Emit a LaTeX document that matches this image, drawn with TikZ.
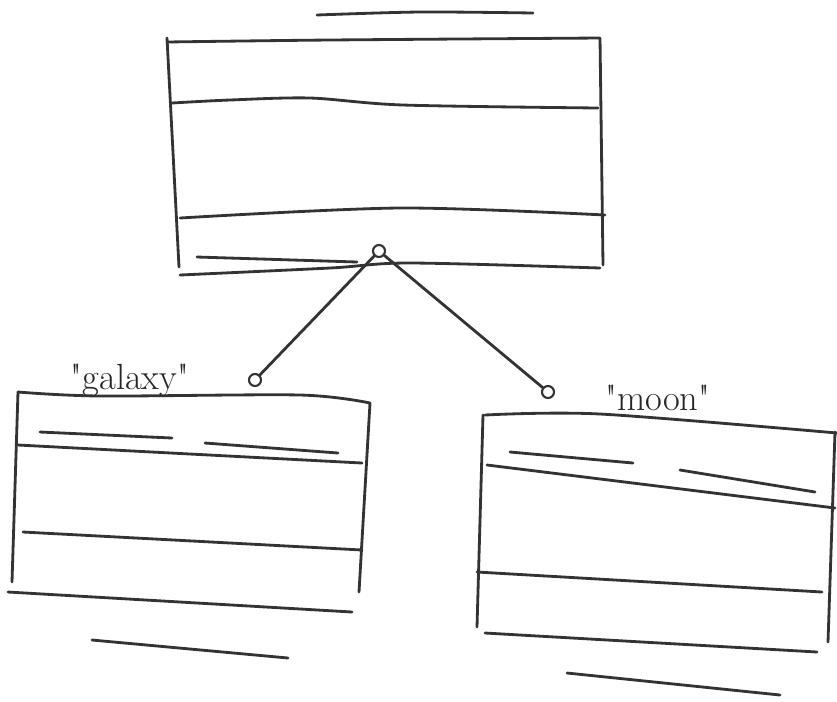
\documentclass[tikz,border=0pt]{standalone}
\usepackage{tikz}
\usetikzlibrary{positioning}

\tikzset{
  pen/.style={line width=1.6pt, black!80, line cap=round, line join=round},
  joint/.style={draw, circle, line width=1.2pt, black!80, fill=white, minimum size=0.24cm, inner sep=0pt},
  tag/.style={font=\huge, black!85}
}

\begin{document}
\begin{tikzpicture}[x=0.02cm, y=-0.02cm]
\useasboundingbox (0,0) rectangle (837,701);

% top class
\draw[pen] plot[smooth] coordinates {(317,15) (420,12) (533,13)};
\draw[pen] plot[smooth] coordinates {(167,42) (330,40) (600,38)} -- (603,265);
\draw[pen] (167,38) -- (179,267);
\draw[pen] plot[smooth] coordinates {(172,103) (230,100) (310,98) (403,105) (598,108)};
\draw[pen] plot[smooth] coordinates {(180,218) (400,208) (605,215)};
\draw[pen] (197,257) -- (357,262);
\draw[pen] plot[smooth] coordinates {(180,275) (330,268) (410,263) (600,268)};

% galaxy class
\draw[pen] plot[smooth] coordinates {(18,392) (100,396) (300,395) (370,403)} -- (359,592);
\draw[pen] (18,392) -- (12,582);
\draw[pen] (40,432) -- (172,438);
\draw[pen] (205,443) -- (338,453);
\draw[pen] (18,445) -- (362,463);
\draw[pen] (23,532) -- (362,550);
\draw[pen] (8,592) -- (352,612);
\draw[pen] (92,640) -- (288,658);

% moon class
\draw[pen] plot[smooth] coordinates {(485,415) (600,414) (837,433)};
\draw[pen] (483,415) -- (477,627);
\draw[pen] (835,432) -- (828,642);
\draw[pen] (510,452) -- (633,463);
\draw[pen] (680,470) -- (815,492);
\draw[pen] (487,465) -- (835,508);
\draw[pen] (477,572) -- (822,592);
\draw[pen] (485,633) -- (817,652);
\draw[pen] (567,673) -- (780,695);

% links
\node[joint] (hub) at (379,251) {};
\node[joint] (gend) at (255,380) {};
\node[joint] (mend) at (548,392) {};
\draw[pen] (hub) -- (gend);
\draw[pen] (hub) -- (mend);

\node[tag] (glabel) at (130,380) {\textquotedbl galaxy\textquotedbl};
\node[tag] (mlabel) at (658,398) {\textquotedbl moon\textquotedbl};
\end{tikzpicture}
\end{document}
